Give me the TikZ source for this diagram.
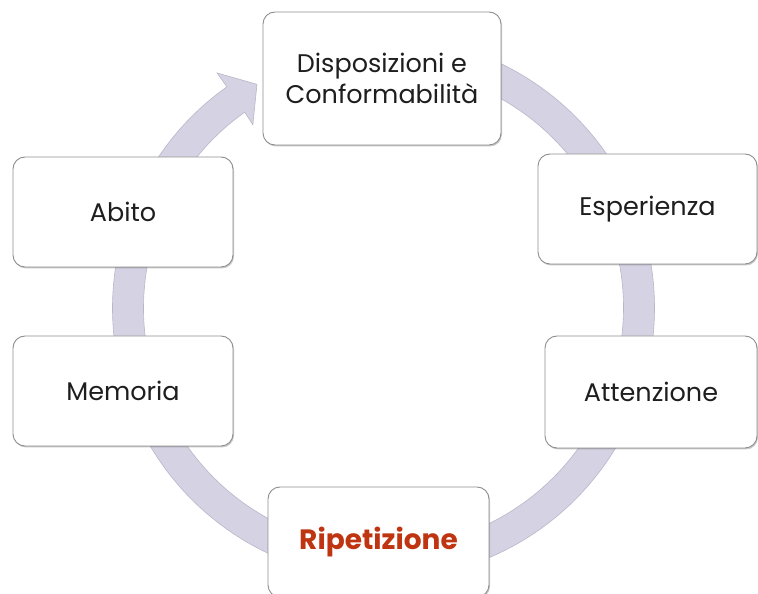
\documentclass[tikz,border=0pt]{standalone}
\usepackage{fontspec}
\setmainfont{Poppins}
\usetikzlibrary{shadows,calc}
\definecolor{ringfill}{HTML}{D5D2E3}
\definecolor{ringedge}{HTML}{B9B6CA}
\definecolor{boxedge}{HTML}{8E8E8E}
\definecolor{txt}{HTML}{1E1E1E}
\definecolor{redtxt}{HTML}{BF3511}
\tikzset{
  stagebox/.style={draw=boxedge, line width=0.9pt, fill=white, rounded corners=12pt,
    align=center, font=\fontsize{25.5}{31}\selectfont, text=txt,
    drop shadow={shadow xshift=1pt, shadow yshift=-1.5pt, opacity=0.35, fill=black!60}},
}
\begin{document}
\begin{tikzpicture}[x=1pt,y=1pt]
\useasboundingbox (0,0) rectangle (758,594);
\coordinate (c) at (383.5,286);
% ring with arrowhead
\fill[ringfill, draw=ringedge, line width=0.6pt]
  ($(c)+(90:271)$) arc[start angle=90, end angle=-234.7, radius=271]
  -- ($(c)+(125.3:288)$) -- ($(c)+(119.5:257)$) -- ($(c)+(125.5:225)$)
  -- ($(c)+(125.3:240)$) arc[start angle=-234.7, end angle=90, radius=240] -- cycle;
% boxes
\node[stagebox, minimum width=238pt, minimum height=133pt] (disp) at (382,515.5) {Disposizioni e\\Conformabilità};
\node[stagebox, minimum width=219pt, minimum height=110pt] (esp) at (647.5,385) {Esperienza};
\node[stagebox, minimum width=212pt, minimum height=112pt] (att) at (651,202) {Attenzione};
\node[stagebox, minimum width=221pt, minimum height=110pt, text=redtxt, font=\fontsize{28}{31}\selectfont\bfseries] (rip) at (378.5,52) {Ripetizione};
\node[stagebox, minimum width=220pt, minimum height=110pt] (mem) at (123,203) {Memoria};
\node[stagebox, minimum width=220pt, minimum height=110pt] (abi) at (123,382) {Abito};
\end{tikzpicture}
\end{document}
